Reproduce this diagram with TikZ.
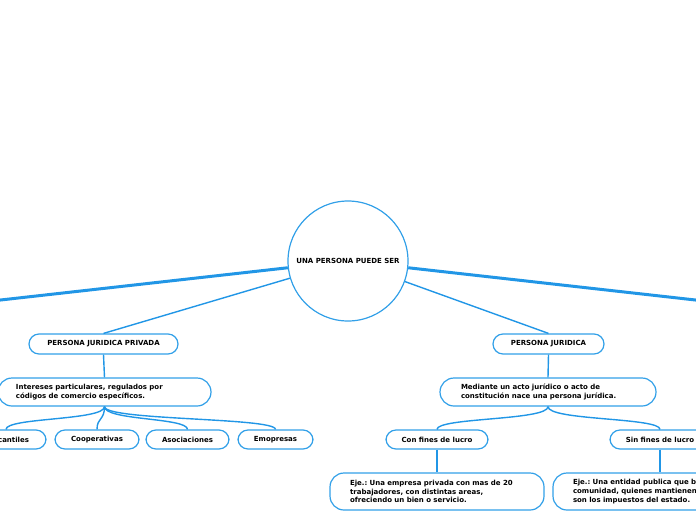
\documentclass[tikz,border=0pt]{standalone}
\usepackage{fontspec}
\setmainfont{DejaVu Sans}
\frenchspacing
\definecolor{lineblue}{RGB}{33,150,230}
\definecolor{boxblue}{RGB}{50,160,232}
\begin{document}
\begin{tikzpicture}[x=1pt,y=-1pt,
  pill/.style={draw=boxblue,line width=1.2pt,fill=white,rounded corners=10pt,
    minimum height=20pt,inner sep=0pt,font=\fontsize{7}{8}\selectfont\bfseries\frenchspacing},
  bigpill/.style={draw=boxblue,line width=1.2pt,fill=white,rounded corners=14pt,
    inner sep=0pt,align=left,text width=176pt,
    font=\fontsize{7}{8.8}\selectfont\bfseries\frenchspacing},
  thickline/.style={draw=lineblue,line width=3pt},
  thinline/.style={draw=lineblue,line width=1.4pt}]
\useasboundingbox (0,0) rectangle (696,520);
\clip (0,0) rectangle (696,520);
% center
\node[draw=boxblue,line width=1.2pt,circle,minimum size=120pt,inner sep=0pt,
  font=\fontsize{7}{8}\selectfont\bfseries] (c) at (348,261) {UNA PERSONA PUEDE SER};
\coordinate (offL) at (-20,302.3);
\coordinate (offR) at (716,302.3);
% left
\node[pill,minimum width=149pt] (pjp) at (103.5,344) {PERSONA JURIDICA PRIVADA};
\node[bigpill,minimum width=213pt,minimum height=28pt,text width=177pt] (int) at (104.5,392)
  {Intereses particulares, regulados por\\códigos de comercio específicos.};
\node[pill,minimum width=80pt,minimum height=19pt] (mer) at (6,439.5) {Mercantiles};
\node[pill,minimum width=84pt,minimum height=19pt] (coo) at (97,439.5) {Cooperativas};
\node[pill,minimum width=83pt,minimum height=19pt] (aso) at (187.5,439.5) {Asociaciones};
\node[pill,minimum width=75pt,minimum height=19pt] (emo) at (275.5,439.5) {Emopresas};
% right
\node[pill,minimum width=111pt] (pj) at (548.5,344) {PERSONA JURIDICA};
\node[bigpill,minimum width=216pt,minimum height=28pt,text width=174pt] (med) at (548,392)
  {Mediante un acto jurídico o acto de\\constitución nace una persona jurídica.};
\node[pill,minimum width=102pt,minimum height=19pt] (con) at (437,439.5) {Con fines de lucro};
\node[pill,minimum width=100pt,minimum height=19pt] (sin) at (660,439.5) {Sin fines de lucro};
\node[bigpill,minimum width=214pt,minimum height=37pt,text width=174pt] (eje1) at (437,491.5)
  {Eje.: Una empresa privada con mas de 20\\trabajadores, con distintas areas,\\ofreciendo un bien o servicio.};
\node[bigpill,minimum width=214pt,minimum height=37pt,text width=174pt] (eje2) at (660,491.5)
  {Eje.: Una entidad publica que beneficia a la\\comunidad, quienes mantienen la entidad\\son los impuestos del estado.};
% connectors
\draw[thickline] (c) -- (offL);
\draw[thickline] (c) -- (offR);
\draw[thinline] (c) -- (pjp.north);
\draw[thinline] (c) -- (pj.north);
\draw[thinline] (pjp.south) -- (int.north);
\draw[thinline] (pj.south) -- (med.north);
\foreach \t in {mer,coo,aso,emo}
  \draw[thinline] (int.south) .. controls +(0,14) and +(0,-12) .. (\t.north);
\foreach \t in {con,sin}
  \draw[thinline] (med.south) .. controls +(0,14) and +(0,-12) .. (\t.north);
\draw[thinline] (con.south) -- (eje1.north);
\draw[thinline] (sin.south) -- (eje2.north);
\end{tikzpicture}
\end{document}
